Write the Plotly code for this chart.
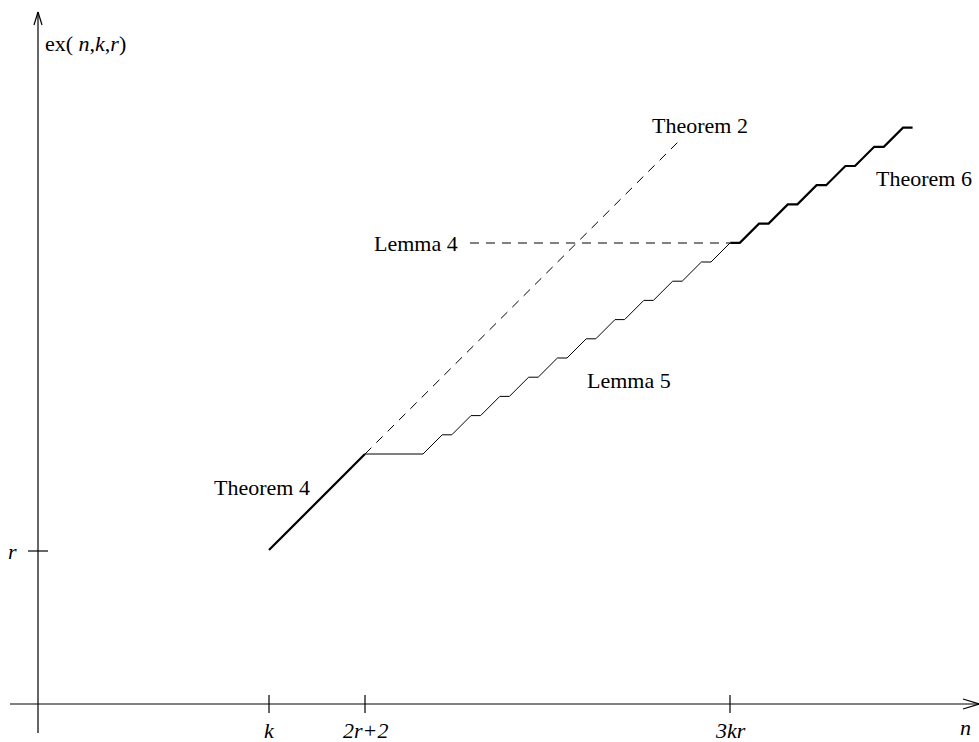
import plotly.graph_objects as go

# ---- data (chart units: origin at the axes' crossing) ----
# x tick positions and labels
x_tick_vals = [231, 327, 692]
x_tick_text = ["<i>k</i>", "<i>2r+2</i>", "<i>3kr</i>"]
# y tick
y_tick_vals = [153]
y_tick_text = ["<i>r</i>"]

# Theorem 4 (thick, straight)
thm4_x = [231, 327]
thm4_y = [154, 250]

# Theorem 2 (dashed continuation)
thm2_x = [327, 644]
thm2_y = [250, 566]

# Lemma 4 (dashed horizontal)
lem4_x = [432, 692]
lem4_y = [461, 461]

# Lemma 5 (thin staircase)
lem5_x = [327, 385, 404.2, 413.8, 433.0, 442.6, 461.8, 471.4, 490.6, 500.2,
          519.4, 529.0, 548.2, 557.8, 577.0, 586.6, 605.8, 615.4, 634.6,
          644.2, 663.4, 673.0, 692.2]
lem5_y = [250, 250, 269.2, 269.2, 288.4, 288.4, 307.6, 307.6, 326.8, 326.8,
          346.0, 346.0, 365.2, 365.2, 384.4, 384.4, 403.6, 403.6, 422.8,
          422.8, 442.0, 442.0, 461.2]

# Theorem 6 (thick staircase)
thm6_x = [692.2, 701.8, 721.0, 730.6, 749.8, 759.4, 778.6, 788.2, 807.4,
          817.0, 836.2, 845.8, 865.0, 874.6]
thm6_y = [461.2, 461.2, 480.4, 480.4, 499.6, 499.6, 518.8, 518.8, 538.0,
          538.0, 557.2, 557.2, 576.4, 576.4]

# labels: (text, x, y)
label_text = ["Theorem 2", "Theorem 6", "Lemma 4", "Lemma 5", "Theorem 4"]
label_x = [662, 886, 378, 591, 224]
label_y = [579, 526, 461, 324, 217]

FONT = "Liberation Serif, Times New Roman, serif"
FS = 22

fig = go.Figure()

line_black = "#000000"
fig.add_trace(go.Scatter(x=thm2_x, y=thm2_y, mode="lines",
                         line=dict(color=line_black, width=1, dash="9px,7px"),
                         hoverinfo="skip"))
fig.add_trace(go.Scatter(x=lem4_x, y=lem4_y, mode="lines",
                         line=dict(color=line_black, width=1, dash="9px,7px"),
                         hoverinfo="skip"))
fig.add_trace(go.Scatter(x=lem5_x, y=lem5_y, mode="lines",
                         line=dict(color=line_black, width=1),
                         hoverinfo="skip"))
fig.add_trace(go.Scatter(x=thm4_x, y=thm4_y, mode="lines",
                         line=dict(color=line_black, width=2.2),
                         hoverinfo="skip"))
fig.add_trace(go.Scatter(x=thm6_x, y=thm6_y, mode="lines",
                         line=dict(color=line_black, width=2.2),
                         hoverinfo="skip"))

# axes drawn as shapes
axis_style = dict(color=line_black, width=1.2)
shapes = [
    dict(type="line", x0=-28, y0=0, x1=941, y1=0, line=axis_style),
    dict(type="line", x0=0, y0=-29, x1=0, y1=692, line=axis_style),
    # x arrow head
    dict(type="line", x0=925, y0=5, x1=941, y1=0, line=axis_style),
    dict(type="line", x0=925, y0=-5, x1=941, y1=0, line=axis_style),
    # y arrow head
    dict(type="line", x0=-4, y0=679, x1=0, y1=692, line=axis_style),
    dict(type="line", x0=4, y0=679, x1=0, y1=692, line=axis_style),
]
for xv in x_tick_vals:
    shapes.append(dict(type="line", x0=xv, y0=-9, x1=xv, y1=9, line=axis_style))
for yv in y_tick_vals:
    shapes.append(dict(type="line", x0=-10, y0=yv, x1=10, y1=yv, line=axis_style))

annotations = []
for xv, t in zip(x_tick_vals, x_tick_text):
    annotations.append(dict(x=xv, y=-26, text=t, showarrow=False,
                            font=dict(family=FONT, size=FS, color="black"),
                            xanchor="center", yanchor="middle"))
for yv, t in zip(y_tick_vals, y_tick_text):
    annotations.append(dict(x=-26, y=yv, text=t, showarrow=False,
                            font=dict(family=FONT, size=FS, color="black"),
                            xanchor="center", yanchor="middle"))
annotations.append(dict(x=927, y=-23, text="<i>n</i>", showarrow=False,
                        font=dict(family=FONT, size=FS, color="black"),
                        xanchor="center", yanchor="middle"))
annotations.append(dict(x=5, y=661, text="ex( <i>n</i>,<i>k</i>,<i>r</i>)",
                        showarrow=False,
                        font=dict(family=FONT, size=FS, color="black"),
                        xanchor="left", yanchor="middle"))
for t, xv, yv in zip(label_text, label_x, label_y):
    annotations.append(dict(x=xv, y=yv, text=t, showarrow=False,
                            font=dict(family=FONT, size=FS, color="black"),
                            xanchor="center", yanchor="middle"))

fig.update_layout(
    width=979, height=742,
    margin=dict(l=0, r=0, t=0, b=0),
    paper_bgcolor="white", plot_bgcolor="white",
    showlegend=False,
    xaxis=dict(range=[-38, 941], visible=False, fixedrange=True),
    yaxis=dict(range=[-38, 704], visible=False, fixedrange=True),
    shapes=shapes,
    annotations=annotations,
)

fig.write_html("out.html",
               config={"displayModeBar": False},
               post_script="document.body.style.margin='0';"
                           "document.body.style.overflow='hidden';")
